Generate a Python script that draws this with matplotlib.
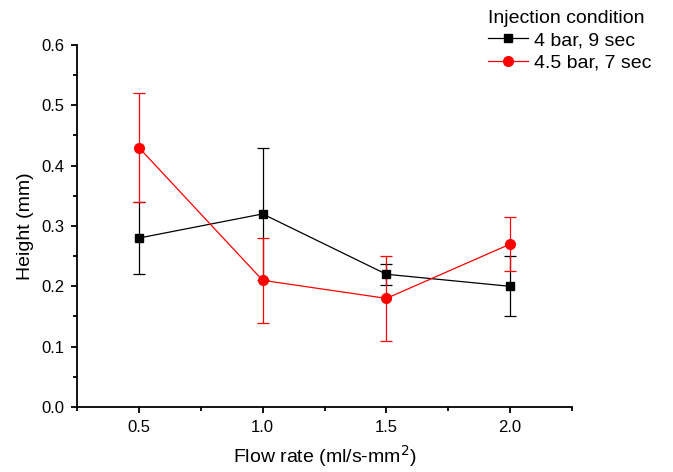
import matplotlib
matplotlib.use('Agg')
from matplotlib import pyplot as plt
from matplotlib.ticker import MultipleLocator
from matplotlib.lines import Line2D

plt.rcParams['font.family'] = ['Liberation Sans', 'DejaVu Sans']

flow = [0.5, 1.0, 1.5, 2.0]
h_4bar = [0.28, 0.32, 0.22, 0.20]
err_4bar = [0.06, 0.11, 0.017, 0.05]
h_45bar = [0.43, 0.21, 0.18, 0.27]
err_45bar = [0.09, 0.07, 0.07, 0.045]
labels = ['4 bar, 9 sec', '4.5 bar, 7 sec']

fig = plt.figure(figsize=(6.73, 4.72), dpi=100)
ax = fig.add_axes([0.1144, 0.1377, 0.7356, 0.767])

ax.errorbar(flow, h_4bar, yerr=err_4bar, color='black', marker='s', ms=5.5,
            lw=0.9, elinewidth=0.9, capsize=4, capthick=0.9)
ax.errorbar(flow, h_45bar, yerr=err_45bar, color='red', marker='o', ms=7,
            lw=0.9, elinewidth=0.9, capsize=4, capthick=0.9)

ax.set_xlim(0.25, 2.25)
ax.set_ylim(0, 0.6)
ax.xaxis.set_major_locator(MultipleLocator(0.5))
ax.xaxis.set_minor_locator(MultipleLocator(0.25))
ax.yaxis.set_major_locator(MultipleLocator(0.1))
ax.yaxis.set_minor_locator(MultipleLocator(0.05))
ax.xaxis.set_major_formatter(plt.FormatStrFormatter('%.1f'))
ax.yaxis.set_major_formatter(plt.FormatStrFormatter('%.1f'))

for s in ['top', 'right']:
    ax.spines[s].set_visible(False)
for s in ['bottom', 'left']:
    ax.spines[s].set_linewidth(1.3)
ax.tick_params(which='major', direction='out', length=4, width=1.3, labelsize=12, pad=5)
ax.tick_params(which='minor', direction='out', length=3, width=1.3)

ax.set_xlabel('Flow rate (ml/s-mm$^2$)', fontsize=14, labelpad=6)
ax.set_ylabel('Height (mm)', fontsize=14, labelpad=5)

handles = [Line2D([], [], color='black', marker='s', ms=5.5, lw=0.9),
           Line2D([], [], color='red', marker='o', ms=7, lw=0.9)]
leg = fig.legend(handles, labels, title='Injection condition', loc='upper left',
                 bbox_to_anchor=(0.71, 1.0), frameon=False, fontsize=14,
                 title_fontsize=14, handlelength=2.1, handletextpad=0.3,
                 labelspacing=0.25, borderaxespad=0.1)
leg._legend_box.align = 'left'

plt.savefig('out.png', dpi=100)
